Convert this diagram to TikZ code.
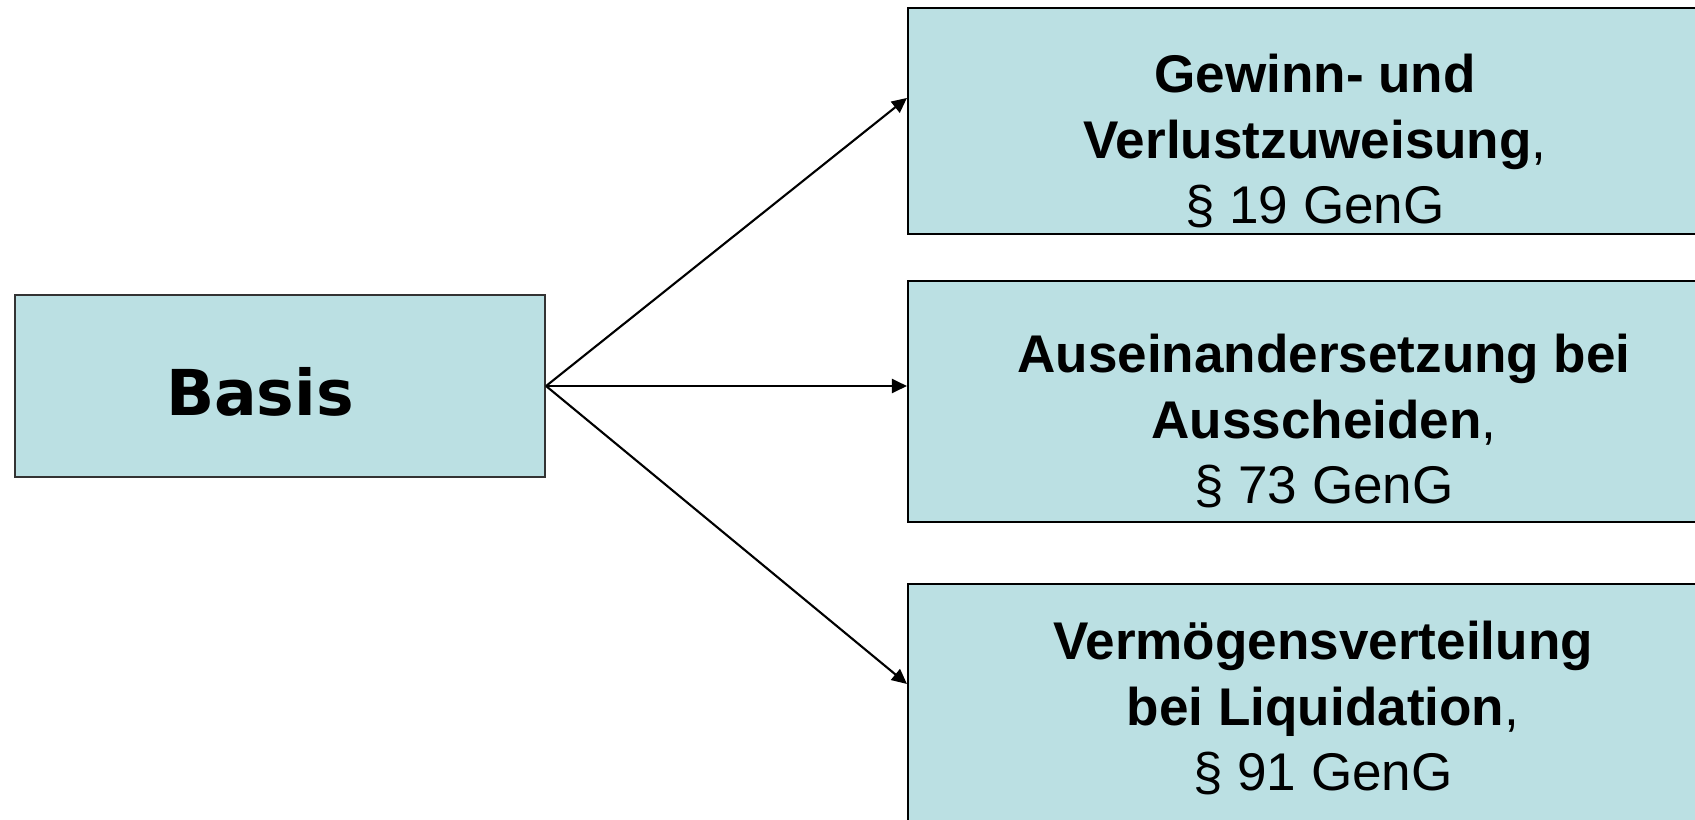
\documentclass[tikz,border=0pt]{standalone}
\usepackage{fontspec}
\setmainfont{Liberation Sans}
\newfontfamily\basisfont{DejaVu Sans}
\usetikzlibrary{arrows.meta}
\definecolor{boxblue}{RGB}{187,224,227}
\tikzstyle{box}=[rectangle,draw=black,fill=boxblue,line width=0.6pt,inner sep=0pt]
\tikzstyle{boxtext}=[align=center,inner sep=0pt,font=\fontsize{15.1pt}{18.5pt}\selectfont]
\tikzstyle{link}=[-{Triangle[length=0.15cm,width=0.14cm]},line width=0.6pt]

\begin{document}
\begin{tikzpicture}
\path[use as bounding box, clip] (0, 0) rectangle (16.95, 8.19);
\node[box, draw=black!80, minimum width=5.30cm, minimum height=1.82cm] at (2.80, 4.33) (basis) {};
\node[box, minimum width=8.14cm, minimum height=2.26cm] at (13.15, 6.98) (gewinn) {};
\node[box, minimum width=8.30cm, minimum height=2.41cm] at (13.23, 4.175) (ausscheiden) {};
\node[box, minimum width=8.30cm, minimum height=2.56cm] at (13.23, 1.07) (liquidation) {};
% texts
\node[boxtext, font=\basisfont\bfseries\fontsize{18pt}{21pt}\selectfont] at (2.60, 4.27) (basistext) {Basis};
\node[boxtext] at (13.15, 6.78) (gewinntext) {\textbf{Gewinn- und}\\ \textbf{Verlustzuweisung},\\ \S\ 19 GenG};
\node[boxtext] at (13.24, 3.98) (ausscheidentext) {\textbf{Auseinandersetzung bei}\\ \textbf{Ausscheiden},\\ \S\ 73 GenG};
\node[boxtext] at (13.23, 1.11) (liquidationtext) {\textbf{Vermögensverteilung}\\ \textbf{bei Liquidation},\\ \S\ 91 GenG};
% arrows
\draw[link] (basis.east) -- ([yshift=-0.91cm]gewinn.north west);
\draw[link] (basis.east) -- (basis.east -| ausscheiden.west);
\draw[link] (basis.east) -- ([yshift=-1.01cm]liquidation.north west);
\end{tikzpicture}
\end{document}
